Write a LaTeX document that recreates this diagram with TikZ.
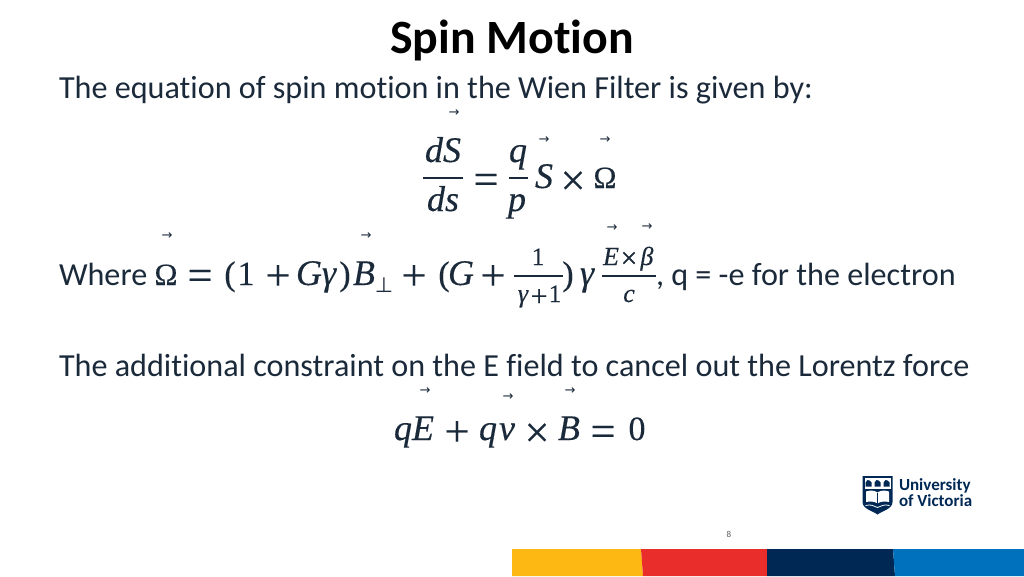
\documentclass[tikz,border=0pt]{standalone}
\usepackage{fontspec}
\setmainfont[Ligatures=NoCommon]{Carlito}
\newfontfamily\mathserif[FakeBold=0.3]{Liberation Serif}
\newfontfamily\mathserifi[FakeBold=0.3]{Liberation Serif Italic}
\newfontfamily\dv{DejaVu Sans}
\definecolor{ink}{HTML}{1B2A3A}
\definecolor{uvicnavy}{HTML}{002855}
\definecolor{uvicyellow}{HTML}{FDB813}
\definecolor{uvicred}{HTML}{E92D2B}
\definecolor{uvicblue}{HTML}{0071BC}
\newcommand{\fs}[1]{\fontsize{#1}{#1}\selectfont}
\tikzset{
  x=1pt,y=-1pt,
  glyph/.style={anchor=base,inner sep=0pt,outer sep=0pt,text=ink},
  txt/.style={anchor=base west,inner sep=0pt,outer sep=0pt,text=ink,font=\fs{32.15}},
  mi/.style={glyph,font=\fs{36}\mathserifi},
  mr/.style={glyph,font=\fs{34}\mathserif},
  omega/.style={glyph,font=\fs{31}\mathserif},
  op/.style={glyph,font=\fs{44}\mathserif},
  si/.style={glyph,font=\fs{26}\mathserifi},
  sr/.style={glyph,font=\fs{25}\mathserif},
  sop/.style={glyph,font=\fs{30}\mathserif},
  vec/.style={anchor=center,inner sep=0pt,outer sep=0pt,text=ink,font=\fs{13}\dv},
  bar/.style={draw=ink,line width=1.3pt},
  logot/.style={anchor=base west,inner sep=0pt,outer sep=0pt,text=uvicnavy,font=\fs{17}\bfseries},
}
\begin{document}
\begin{tikzpicture}
\useasboundingbox (0,0) rectangle (1024,576);
\fill[white] (0,0) rectangle (1024,576);
\node[anchor=base,inner sep=0pt,text=black,font=\fs{47.8}\bfseries] (title) at (512,53) {Spin Motion};
\node[txt] (l1) at (59,98) {The equation of spin motion in the Wien Filter is given by:};
% eq 1
\node[mi] (e1a) at (443,162) {dS};
\draw[bar] (423,178) -- (463,178);
\node[mi] (e1b) at (443,211) {ds};
\node[op] (e1c) at (486,194) {=};
\node[mi] (e1d) at (518,162) {q};
\draw[bar] (509,178) -- (528,178);
\node[mi] (e1e) at (517,211) {p};
\node[mi] (e1f) at (544,188) {S};
\node[op] (e1g) at (573,195) {×};
\node[omega] (e1h) at (605,188) {Ω};
\node[vec] (a1) at (454,113) {→};
\node[vec] (a2) at (544,140) {→};
\node[vec] (a3) at (605,140) {→};
% eq 2
\node[txt] (w) at (59,285) {Where};
\node[omega] (e2a) at (166,285) {Ω};
\node[op] (e2b) at (200,290) {=};
\node[mr] (e2c) at (230,285) {(};
\node[mr] (e2d) at (246,285) {1};
\node[op] (e2e) at (278,290) {+};
\node[mi] (e2f) at (309,285) {G};
\node[mi] (e2g) at (329,285) {γ};
\node[mr] (e2h) at (345,285) {)};
\node[mi] (e2i) at (364,285) {B};
\node[glyph,font=\fs{21}\dv] (e2j) at (384,292) {⊥};
\node[op] (e2k) at (414,290) {+};
\node[mr] (e2l) at (444,285) {(};
\node[mi] (e2m) at (461,285) {G};
\node[op] (e2n) at (493,290) {+};
\node[sr] (e2o) at (538,265) {1};
\draw[bar] (514,276) -- (563,276);
\node[si] (e2p) at (523,302) {γ};
\node[sop] (e2q) at (539,306) {+};
\node[sr] (e2r) at (555,302) {1};
\node[mr] (e2s) at (568,285) {)};
\node[mi] (e2t) at (587,285) {γ};
\node[si] (e2u) at (611,265) {E};
\node[sop] (e2v) at (629,268) {×};
\node[si] (e2w) at (647,265) {β};
\draw[bar] (602,276) -- (656,276);
\node[si] (e2x) at (629,302) {c};
\node[vec] (a4) at (167,236) {→};
\node[vec] (a5) at (366,236) {→};
\node[vec] (a6) at (612,228) {→};
\node[vec] (a7) at (647,227) {→};
\node[txt] (l2r) at (656,285) {, q = -e for the electron};
% line 3
\node[txt] (l3) at (59,376) {The additional constraint on the E field to cancel out the Lorentz force};
% eq 3
\node[mi] (e3a) at (403,440) {q};
\node[mi] (e3b) at (423,440) {E};
\node[op] (e3c) at (457,446) {+};
\node[mi] (e3d) at (488,440) {q};
\node[mi] (e3e) at (507,440) {v};
\node[op] (e3f) at (537,447) {×};
\node[mi] (e3g) at (569,440) {B};
\node[op] (e3h) at (603,446) {=};
\node[mr] (e3i) at (637,440) {0};
\node[vec] (a8) at (425,391) {→};
\node[vec] (a9) at (508,397) {→};
\node[vec] (a10) at (570,391) {→};
% logo
\fill[uvicnavy] (862.5,476) -- (892.5,476) -- (892.5,502) .. controls (892.5,509) and (882,511) .. (877.5,514.5) .. controls (873,511) and (862.5,509) .. (862.5,502) -- cycle;
\fill[white] (864.5,478) rectangle (890.5,488.5);
\foreach \xx in {868.5,877.5,886.5}{
  \fill[uvicnavy] (\xx-3,486.5) -- (\xx-3,482.5) -- (\xx-1,480) -- (\xx+1,480.5) -- (\xx+3,482.5) -- (\xx+3,486.5) -- cycle;
}
\fill[white] (866,491.5) .. controls (870,490) and (875,490.5) .. (877.5,492.5) .. controls (880,490.5) and (885,490) .. (889,491.5) -- (889,502) .. controls (885,501) and (880,501.5) .. (877.5,503.5) .. controls (875,501.5) and (870,501) .. (866,502) -- cycle;
\draw[uvicnavy,line width=.7pt] (877.5,492.5) -- (877.5,503.5);
\draw[white,line width=.8pt] (865.5,505.5) .. controls (871,504) and (874,506) .. (877.5,507.5) .. controls (881,506) and (884,504) .. (889.5,505.5);
\node[logot] (u1) at (899,490) {University};
\node[logot] (u2) at (899,506) {of Victoria};
% page number
\node[anchor=center,inner sep=0pt,text=black!65,font=\fs{9}] (pg) at (729,534) {8};
% footer
\fill[uvicyellow] (512,549) -- (641,549) -- (643,576) -- (512,576) -- cycle;
\fill[uvicred] (641,549) -- (767,549) -- (767,576) -- (643,576) -- cycle;
\fill[uvicnavy] (767,549) -- (893,549) -- (895,576) -- (767,576) -- cycle;
\fill[uvicblue] (893,549) -- (1024,549) -- (1024,576) -- (895,576) -- cycle;
\end{tikzpicture}
\end{document}
